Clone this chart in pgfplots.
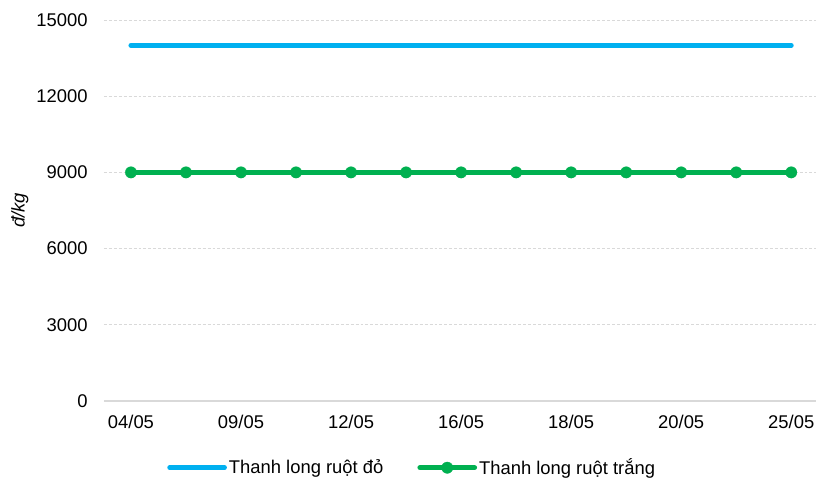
\documentclass[border=0pt]{standalone}
\usepackage{pgfplots}
\pgfplotsset{compat=1.18}
\usepackage{fontspec}
\setmainfont{Liberation Sans}
\definecolor{cblue}{HTML}{00B0F0}
\definecolor{cgreen}{HTML}{00B050}
\definecolor{cgrid}{HTML}{D9D9D9}
\begin{document}
\fontsize{13.8}{16}\selectfont
\begin{tikzpicture}
\begin{axis}[
  at={(0,0)}, anchor=south west,
  scale only axis, width=534pt, height=285.75pt,
  xmin=-0.49, xmax=12.45, ymin=0, ymax=15000,
  xtick={0,2,4,6,8,10,12},
  xticklabels={04/05,09/05,12/05,16/05,18/05,20/05,25/05},
  ytick={0,3000,6000,9000,12000,15000},
  scaled y ticks=false,
  /pgf/number format/assume math mode=true,
  /pgf/number format/1000 sep={},
  /pgf/number format/fixed,
  axis x line*=bottom, axis y line*=left,
  y axis line style={draw=none},
  x axis line style={cgrid, line width=0.9pt},
  major tick length=0pt, tick style={draw=none},
  ymajorgrids, grid style={cgrid, dash pattern=on 2.2pt off 1.5pt, line width=0.6pt},
  yticklabel style={xshift=-7.5pt},
  xticklabel style={yshift=-6pt},
  ylabel={\textit{đ/kg}},
  ylabel style={at={(axis description cs:-0.118,0.5)}, anchor=center},
  legend columns=2,
  legend style={draw=none, fill=none, at={(axis description cs:0.0885,-0.175)}, anchor=west,
    inner sep=0pt, font=\fontsize{13.8}{16}\selectfont,
    nodes={inner sep=1.5pt},
    /tikz/every even column/.append style={column sep=24pt}},
  legend image code/.code={\draw[mark repeat=2,mark phase=2,#1] plot coordinates {(0pt,0pt) (20.5pt,0pt) (41pt,0pt)};},
]
\addplot[cblue, line width=3.75pt, line cap=round, no marks] coordinates {
(0,14000) (1,14000) (2,14000) (3,14000) (4,14000) (5,14000) (6,14000)
(7,14000) (8,14000) (9,14000) (10,14000) (11,14000) (12,14000)};
\addlegendentry{Thanh long ruột đỏ}
\addplot[cgreen, line width=3.75pt, line cap=round, mark=*, mark size=4.3pt, mark options={fill=cgreen, draw=cgreen, line width=0.2pt}] coordinates {
(0,9000) (1,9000) (2,9000) (3,9000) (4,9000) (5,9000) (6,9000)
(7,9000) (8,9000) (9,9000) (10,9000) (11,9000) (12,9000)};
\addlegendentry{Thanh long ruột trắng}
\end{axis}
\pgfresetboundingbox
\path[use as bounding box] (-78pt,-58.5pt) rectangle (534pt,300.75pt);
\end{tikzpicture}
\end{document}
